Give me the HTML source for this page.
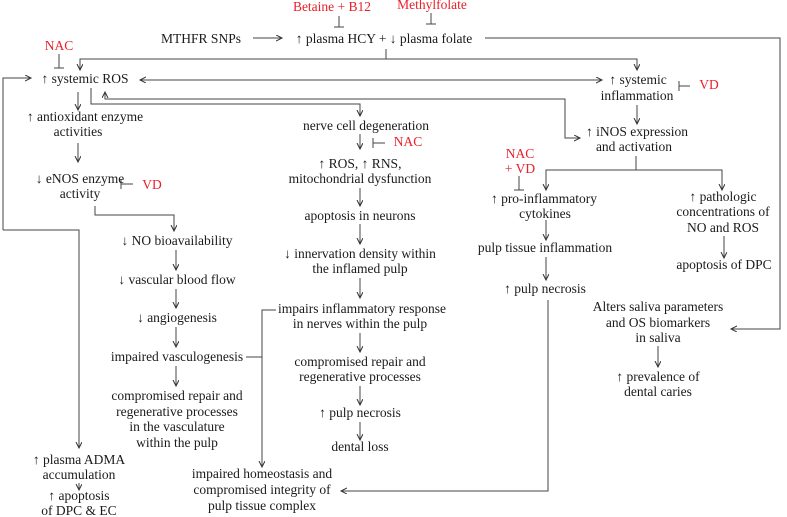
<!DOCTYPE html>
<html><head><meta charset="utf-8"><style>
html,body{margin:0;padding:0;background:#fff;}
svg{display:block;}
text{font-family:"Liberation Serif",serif;font-size:13.5px;fill:#1a1a1a;text-anchor:middle;dominant-baseline:middle;}
.r{fill:#e8202a;}
</style></head><body>
<svg width="787" height="517" viewBox="0 0 787 517" xmlns="http://www.w3.org/2000/svg">
<defs><marker id="a" markerWidth="8" markerHeight="8" refX="6" refY="3" orient="auto" markerUnits="userSpaceOnUse"><path d="M0,0 L6,3 L0,6" fill="none" stroke="#333" stroke-width="1"/></marker></defs>
<g stroke="#444" stroke-width="1" fill="none">
<path d="M339,16 V27 M334,27 H344"/>
<path d="M431,13 V24 M426,24 H436"/>
<path d="M59,54 V68 M54,68 H64"/>
<path d="M690,86 H679 M679,81 V91"/>
<path d="M133,184 H121 M121,179 V189"/>
<path d="M385,143 H373 M373,138 V148"/>
<path d="M519,176 V190 M514,190 H524"/>
<path d="M253,38 H282" marker-end="url(#a)"/>
<path d="M386,49 V59 H80 V70" marker-end="url(#a)"/>
<path d="M386,59 H637 V70" marker-end="url(#a)"/>
<path d="M485,38 H780 V329 H731" marker-end="url(#a)"/>
<path d="M3,230 V78 H31" marker-end="url(#a)"/>
<path d="M3,230 H79 V448" marker-end="url(#a)"/>
<path d="M376,80 H140" marker-end="url(#a)"/>
<path d="M376,80 H602" marker-end="url(#a)"/>
<path d="M91,88 V104 H360 V116" marker-end="url(#a)"/>
<path d="M300,99 H105 V92" marker-end="url(#a)"/>
<path d="M300,99 H565 V138 H580" marker-end="url(#a)"/>
<path d="M78,92 V110" marker-end="url(#a)"/>
<path d="M78,143 V162" marker-end="url(#a)"/>
<path d="M95,206 V215 H174 V231" marker-end="url(#a)"/>
<path d="M176,250 V270" marker-end="url(#a)"/>
<path d="M176,289 V308" marker-end="url(#a)"/>
<path d="M176,327 V347" marker-end="url(#a)"/>
<path d="M176,366 V386" marker-end="url(#a)"/>
<path d="M79,483 V490" marker-end="url(#a)"/>
<path d="M360,134 V149" marker-end="url(#a)"/>
<path d="M360,188 V206" marker-end="url(#a)"/>
<path d="M360,224 V244" marker-end="url(#a)"/>
<path d="M360,278 V298" marker-end="url(#a)"/>
<path d="M360,333 V352" marker-end="url(#a)"/>
<path d="M360,386 V405" marker-end="url(#a)"/>
<path d="M360,422 V440" marker-end="url(#a)"/>
<path d="M246,357 H262 M276,310 H262 V467" marker-end="url(#a)"/>
<path d="M637,105 V124" marker-end="url(#a)"/>
<path d="M636,156 V170 H546 V190" marker-end="url(#a)"/>
<path d="M636,170 H722 V190" marker-end="url(#a)"/>
<path d="M546,220 V240" marker-end="url(#a)"/>
<path d="M546,257 V280" marker-end="url(#a)"/>
<path d="M724,236 V258" marker-end="url(#a)"/>
<path d="M658,346 V367" marker-end="url(#a)"/>
<path d="M548,300 V491 H341" marker-end="url(#a)"/>
</g>
<text class="r" x="332" y="8">Betaine + B12</text>
<text class="r" x="432" y="6">Methylfolate</text>
<text x="201" y="40">MTHFR  SNPs</text>
<text x="384" y="40">↑ plasma HCY + ↓ plasma folate</text>
<text class="r" x="59" y="47">NAC</text>
<text x="85" y="80">↑ systemic ROS</text>
<text x="638" y="81">↑ systemic</text>
<text x="637" y="97">inflammation</text>
<text class="r" x="709" y="86">VD</text>
<text x="85" y="118">↑ antioxidant enzyme</text>
<text x="78" y="133">activities</text>
<text x="80" y="180">↓ eNOS enzyme</text>
<text x="80" y="195">activity</text>
<text class="r" x="152" y="186">VD</text>
<text x="366" y="127">nerve cell degeneration</text>
<text class="r" x="408" y="143">NAC</text>
<text x="360" y="165">↑ ROS, ↑ RNS,</text>
<text x="360" y="180">mitochondrial dysfunction</text>
<text x="360" y="217">apoptosis in neurons</text>
<text x="360" y="255">↓ innervation density within</text>
<text x="360" y="270">the inflamed pulp</text>
<text x="362" y="310">impairs inflammatory response</text>
<text x="360" y="325">in nerves within the pulp</text>
<text x="360" y="363">compromised repair and</text>
<text x="360" y="378">regenerative processes</text>
<text x="360" y="414">↑ pulp necrosis</text>
<text x="360" y="448">dental loss</text>
<text x="637" y="133">↑ iNOS expression</text>
<text x="634" y="148">and activation</text>
<text class="r" x="520" y="155">NAC</text>
<text class="r" x="520" y="170">+ VD</text>
<text x="544" y="200">↑ pro-inflammatory</text>
<text x="545" y="215">cytokines</text>
<text x="723" y="198">↑ pathologic</text>
<text x="723" y="213">concentrations of</text>
<text x="723" y="229">NO and ROS</text>
<text x="724" y="266">apoptosis of DPC</text>
<text x="545" y="249">pulp tissue inflammation</text>
<text x="545" y="290">↑ pulp necrosis</text>
<text x="658" y="308">Alters saliva parameters</text>
<text x="658" y="324">and OS biomarkers</text>
<text x="658" y="339">in saliva</text>
<text x="658" y="378">↑ prevalence of</text>
<text x="658" y="393">dental caries</text>
<text x="177" y="242">↓ NO bioavailability</text>
<text x="177" y="281">↓ vascular blood flow</text>
<text x="177" y="319">↓ angiogenesis</text>
<text x="177" y="358">impaired vasculogenesis</text>
<text x="177" y="397">compromised repair and</text>
<text x="177" y="413">regenerative processes</text>
<text x="177" y="428">in the vasculature</text>
<text x="177" y="444">within the pulp</text>
<text x="79" y="461">↑ plasma ADMA</text>
<text x="79" y="476">accumulation</text>
<text x="79" y="497">↑ apoptosis</text>
<text x="79" y="512">of DPC &amp; EC</text>
<text x="262" y="475">impaired homeostasis and</text>
<text x="262" y="491">compromised integrity of</text>
<text x="262" y="507">pulp tissue complex</text>
</svg>
</body></html>
